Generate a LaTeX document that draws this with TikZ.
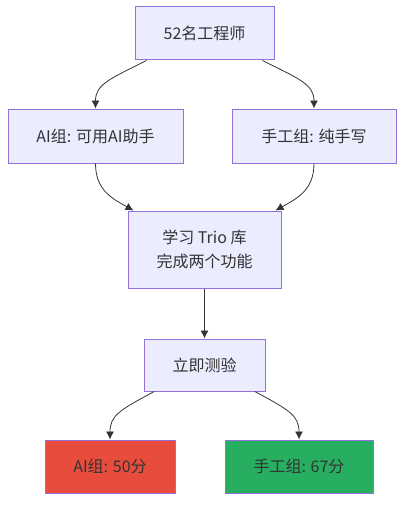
\documentclass[tikz,border=0pt]{standalone}
\usepackage{fontspec}
\setmainfont{Noto Sans CJK SC}
\usetikzlibrary{arrows.meta}
\definecolor{boxfill}{HTML}{ECECFF}
\definecolor{boxline}{HTML}{9370DB}
\definecolor{ink}{HTML}{333333}
\definecolor{redfill}{HTML}{E74C3C}
\definecolor{greenfill}{HTML}{27AE60}

\begin{document}
\begin{tikzpicture}[x=0.75pt,y=-0.75pt,
  box/.style={draw=boxline,fill=boxfill,line width=0.75pt,text=ink,align=center,
    inner sep=0pt,font=\fontsize{12}{18}\selectfont},
  flow/.style={draw=ink,line width=0.6pt,-{Latex[length=6pt,width=6pt]}}]
\useasboundingbox (0,0) rectangle (412,510);

\node[box,minimum width=104.25pt,minimum height=39.75pt] (eng) at (204.5,33.5) {52名工程师};
\node[box,minimum width=131.25pt,minimum height=40.5pt] (aigrp) at (95.5,136) {AI组: 可用AI助手};
\node[box,minimum width=123pt,minimum height=40.5pt] (handgrp) at (314,136) {手工组: 纯手写};
\node[box,minimum width=114.75pt,minimum height=57.75pt] (learn) at (204.5,249.5) {学习 Trio 库\\完成两个功能};
\node[box,minimum width=90.75pt,minimum height=39pt] (quiz) at (204.5,365) {立即测验};
\node[box,fill=redfill,minimum width=97.5pt,minimum height=39.75pt] (aiscore) at (110,466.5) {AI组: 50分};
\node[box,fill=greenfill,minimum width=111pt,minimum height=39.75pt] (handscore) at (299,466.5) {手工组: 67分};

% split
\draw[flow] ([xshift=9pt]eng.south west) .. controls +(-28pt,-14pt) and +(0,18pt) .. (aigrp.north);
\draw[flow] ([xshift=-9pt]eng.south east) .. controls +(28pt,-14pt) and +(0,18pt) .. (handgrp.north);

% merge
\draw[flow] (aigrp.south) .. controls +(0,-20pt) and +(-16pt,9pt) .. ([xshift=4.5pt]learn.north west);
\draw[flow] (handgrp.south) .. controls +(0,-20pt) and +(16pt,9pt) .. ([xshift=-4.5pt]learn.north east);

\draw[flow] (learn) -- (quiz);

% results
\draw[flow] ([xshift=8pt]quiz.south west) .. controls +(-26pt,-14pt) and +(0,18pt) .. (aiscore.north);
\draw[flow] ([xshift=-8pt]quiz.south east) .. controls +(26pt,-14pt) and +(0,18pt) .. (handscore.north);
\end{tikzpicture}
\end{document}
